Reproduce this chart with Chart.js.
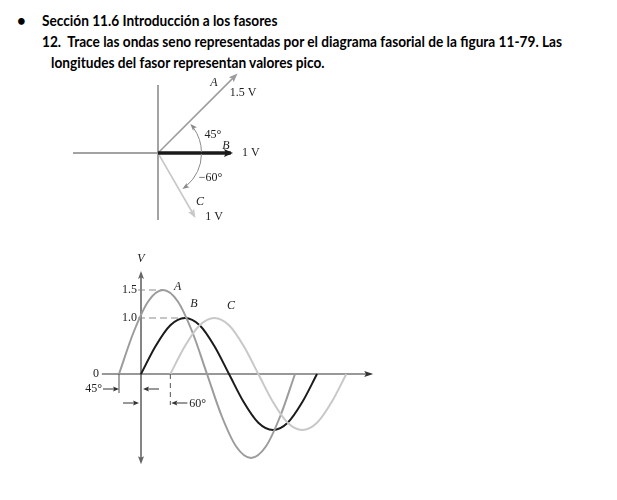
<!DOCTYPE html>
<html>
<head>
<meta charset="utf-8">
<script src="https://cdn.jsdelivr.net/npm/chart.js@4.4.0/dist/chart.umd.min.js"></script>
<style>
  html, body { margin: 0; padding: 0; background: #fff; }
  body { width: 617px; height: 500px; position: relative; overflow: hidden; }
  .hd { position: absolute; font-family: Lato, 'Open Sans', sans-serif; font-weight: bold; font-size: 15px;
        color: #000; white-space: nowrap; line-height: 1; transform-origin: left center; }
  canvas { position: absolute; }
</style>
</head>
<body>
<div class="hd" style="left:17px;top:13px">•</div>
<div class="hd line" style="left:42px;top:13px">Sección 11.6 Introducción a los fasores</div>
<div class="hd line" style="left:42px;top:34px">12.&nbsp;&nbsp;Trace las ondas seno representadas por el diagrama fasorial de la figura 11-79. Las</div>
<div class="hd line" style="left:51px;top:55px">longitudes del fasor representan valores pico.</div>

<canvas id="phasor" width="240" height="175" style="left:60px;top:60px"></canvas>
<canvas id="waves" width="330" height="230" style="left:60px;top:250px"></canvas>

<script>
// phasor diagram (fig. 11-79)
const phasorName = ['A', 'B', 'C'];
const phasorPeak = [1.5, 1, 1];      // V
const phasorAngle = [45, 0, -60];    // degrees
const phasorText = ['1.5 V', '1 V', '1 V'];
const arcText = ['45°', '\u221260°'];

// sine waves, one cycle each, every 30 deg
const degA = [-45, -15, 15, 45, 75, 105, 135, 165, 195, 225, 255, 285, 315];
const voltA = [0, 0.75, 1.3, 1.5, 1.3, 0.75, 0, -0.75, -1.3, -1.5, -1.3, -0.75, 0];
const degB = [0, 30, 60, 90, 120, 150, 180, 210, 240, 270, 300, 330, 360];
const voltB = [0, 0.5, 0.87, 1, 0.87, 0.5, 0, -0.5, -0.87, -1, -0.87, -0.5, 0];
const degC = [60, 90, 120, 150, 180, 210, 240, 270, 300, 330, 360, 390, 420];
const voltC = [0, 0.5, 0.87, 1, 0.87, 0.5, 0, -0.5, -0.87, -1, -0.87, -0.5, 0];
const yTickValues = [1.5, 1.0];
const yTickLabels = ['1.5', '1.0'];
const shiftLabels = ['45°', '60°'];

const COLORS = ['#9c9c9c', '#1b1b1b', '#c8c8c8'];
const SERIF = '"Liberation Serif", "DejaVu Serif", serif';

// squeeze the heading to the width it has in the scan (Calibri is narrow)
(() => {
  const lines = Array.from(document.querySelectorAll('.hd.line'));
  const k = 520 / lines[1].offsetWidth;
  lines.forEach((el) => { el.style.transform = `scaleX(${k})`; });
})();

function arrowHead(ctx, x, y, angle, len, half, color) {
  ctx.save();
  ctx.translate(x, y);
  ctx.rotate(angle);
  ctx.fillStyle = color;
  ctx.beginPath();
  ctx.moveTo(0, 0);
  ctx.lineTo(-len, -half);
  ctx.lineTo(-len * 0.8, 0);
  ctx.lineTo(-len, half);
  ctx.closePath();
  ctx.fill();
  ctx.restore();
}

function text(ctx, str, x, y, align = 'center', italic = false) {
  ctx.font = `${italic ? 'italic ' : ''}12px ${SERIF}`;
  ctx.fillStyle = '#222';
  ctx.textAlign = align;
  ctx.textBaseline = 'middle';
  ctx.fillText(str, x, y);
}

const baseOptions = (xMin, xMax, yMin, yMax) => ({
  responsive: false,
  animation: false,
  events: [],
  layout: { padding: 0 },
  plugins: { legend: { display: false }, tooltip: { enabled: false } },
  scales: {
    x: { type: 'linear', display: false, min: xMin, max: xMax },
    y: { type: 'linear', display: false, min: yMin, max: yMax },
  },
});

// ---------- phasor chart ----------
const PH_PX = 75; // px per volt
const phasorDecor = {
  id: 'phasorDecor',
  beforeDatasetsDraw(chart) {
    const { ctx, scales: { x, y } } = chart;
    const ox = x.getPixelForValue(0);
    const oy = y.getPixelForValue(0);
    ctx.save();
    ctx.strokeStyle = '#858585';
    ctx.lineWidth = 1.5;
    ctx.beginPath();
    ctx.moveTo(x.getPixelForValue(-1.133), oy);
    ctx.lineTo(ox, oy);
    ctx.moveTo(ox, y.getPixelForValue(0.907));
    ctx.lineTo(ox, y.getPixelForValue(-0.893));
    ctx.stroke();
    ctx.restore();
  },
  afterDatasetsDraw(chart) {
    const { ctx, scales: { x, y } } = chart;
    const ox = x.getPixelForValue(0);
    const oy = y.getPixelForValue(0);

    phasorPeak.forEach((mag, i) => {
      const rad = phasorAngle[i] * Math.PI / 180;
      const tx = x.getPixelForValue(mag * Math.cos(rad));
      const ty = y.getPixelForValue(mag * Math.sin(rad));
      arrowHead(ctx, tx, ty, -rad, 9, i === 1 ? 4 : 3.5, COLORS[i]);
    });

    // angle arcs
    const r = x.getPixelForValue(0.58) - ox;
    ctx.save();
    ctx.strokeStyle = '#8a8a8a';
    ctx.lineWidth = 1;
    const a1 = 42 * Math.PI / 180;
    ctx.beginPath();
    ctx.arc(ox, oy, r, -0.02, -a1 + 0.12, true);
    ctx.stroke();
    arrowHead(ctx, ox + r * Math.cos(a1), oy - r * Math.sin(a1), -a1 - Math.PI / 2, 7, 2.6, '#8a8a8a');
    const a2 = 56 * Math.PI / 180;
    ctx.beginPath();
    ctx.arc(ox, oy, r, 0.02, a2 - 0.12, false);
    ctx.stroke();
    arrowHead(ctx, ox + r * Math.cos(a2), oy + r * Math.sin(a2), a2 + Math.PI / 2, 7, 2.6, '#8a8a8a');
    ctx.restore();

    const px = (v) => x.getPixelForValue(v);
    const py = (v) => y.getPixelForValue(v);
    text(ctx, phasorName[0], px(0.747), py(0.94), 'center', true);
    text(ctx, phasorText[0], px(1.133), py(0.80));
    text(ctx, arcText[0], px(0.733), py(0.24));
    text(ctx, phasorName[1], px(0.907), py(0.093), 'center', true);
    text(ctx, phasorText[1], px(1.12), py(0.0), 'left');
    text(ctx, arcText[1], px(0.70), py(-0.333));
    text(ctx, phasorName[2], px(0.56), py(-0.653), 'center', true);
    text(ctx, phasorText[2], px(0.747), py(-0.853));
  },
};

new Chart(document.getElementById('phasor'), {
  type: 'scatter',
  data: {
    datasets: phasorPeak.map((mag, i) => {
      const rad = phasorAngle[i] * Math.PI / 180;
      return {
        label: phasorName[i],
        data: [{ x: 0, y: 0 }, { x: mag * Math.cos(rad) * 0.97, y: mag * Math.sin(rad) * 0.97 }],
        showLine: true,
        borderColor: COLORS[i],
        borderWidth: i === 1 ? 3.5 : 1.6,
        pointRadius: 0,
        order: i === 1 ? 0 : 1,
      };
    }),
  },
  options: baseOptions(-98 / PH_PX, 142 / PH_PX, -82 / PH_PX, 93 / PH_PX),
  plugins: [phasorDecor],
});

// ---------- wave chart ----------
const DEG_PX = 88 / 180;
const V_PX = 56;
const waveDecor = {
  id: 'waveDecor',
  beforeDatasetsDraw(chart) {
    const { ctx, scales: { x, y } } = chart;
    const x0 = x.getPixelForValue(0);
    const y0 = y.getPixelForValue(0);
    const px = (v) => x.getPixelForValue(v);
    const py = (v) => y.getPixelForValue(v);
    ctx.save();

    // dashed guides to the peaks
    ctx.strokeStyle = '#8c8c8c';
    ctx.lineWidth = 1.2;
    ctx.setLineDash([7, 4]);
    ctx.beginPath();
    ctx.moveTo(x0 - 3, py(yTickValues[0]));
    ctx.lineTo(px(degA[3]), py(yTickValues[0]));
    ctx.moveTo(x0 - 3, py(yTickValues[1]));
    ctx.lineTo(px(degB[3]), py(yTickValues[1]));
    ctx.stroke();

    // phase markers below the axis
    ctx.strokeStyle = '#555';
    ctx.lineWidth = 1;
    ctx.setLineDash([5, 4]);
    ctx.beginPath();
    ctx.moveTo(px(degC[0]), y0);
    ctx.lineTo(px(degC[0]), y0 + 31);
    ctx.stroke();
    ctx.setLineDash([]);
    ctx.strokeStyle = '#777';
    ctx.lineWidth = 1.3;
    ctx.beginPath();
    ctx.moveTo(px(degA[0]), y0);
    ctx.lineTo(px(degA[0]), y0 + 19);
    ctx.stroke();

    // axes
    ctx.strokeStyle = '#858585';
    ctx.lineWidth = 2;
    ctx.beginPath();
    ctx.moveTo(x0, py(1.80));
    ctx.lineTo(x0, py(-1.57));
    ctx.stroke();
    arrowHead(ctx, x0, py(1.84), -Math.PI / 2, 8, 3, '#666');
    arrowHead(ctx, x0, py(-1.61), Math.PI / 2, 8, 3, '#666');

    ctx.strokeStyle = '#333';
    ctx.lineWidth = 1.2;
    ctx.beginPath();
    ctx.moveTo(px(-80), y0);
    ctx.lineTo(px(470), y0);
    ctx.stroke();
    arrowHead(ctx, px(475), y0, 0, 9, 3, '#333');

    // small dimension arrows
    ctx.strokeStyle = '#333';
    ctx.lineWidth = 1;
    const dim = (tip, dir, row) => {
      const yy = y0 + row;
      ctx.beginPath();
      ctx.moveTo(tip - dir * 16, yy);
      ctx.lineTo(tip - dir * 4, yy);
      ctx.stroke();
      arrowHead(ctx, tip, yy, dir > 0 ? 0 : Math.PI, 6, 2.4, '#333');
    };
    dim(px(degA[0]), 1, 15);
    dim(x0 + 2, -1, 15);
    dim(x0 - 2, 1, 29);
    dim(px(degC[0]) + 1, -1, 29);

    text(ctx, shiftLabels[0], px(degA[0]) - 17, y0 + 15, 'right');
    text(ctx, shiftLabels[1], px(degC[0]) + 19, y0 + 30, 'left');

    text(ctx, '0', px(-80) - 3, y0, 'right');
    yTickValues.forEach((v, i) => text(ctx, yTickLabels[i], x0 - 4, py(v), 'right'));
    text(ctx, 'V', x0, py(1.84) - 12, 'center', true);
    ctx.restore();
  },
  afterDatasetsDraw(chart) {
    const { ctx, scales: { x, y } } = chart;
    const px = (v) => x.getPixelForValue(v);
    const py = (v) => y.getPixelForValue(v);
    text(ctx, 'A', px(75), py(1.55), 'center', true);
    text(ctx, 'B', px(108), py(1.26), 'center', true);
    text(ctx, 'C', px(184), py(1.22), 'center', true);
  },
};

const waveSet = (label, degs, volts, color) => ({
  label,
  data: degs.map((d, i) => ({ x: d, y: volts[i] })),
  showLine: true,
  cubicInterpolationMode: 'monotone',
  borderColor: color,
  borderWidth: 2,
  pointRadius: 0,
  clip: false,
});

new Chart(document.getElementById('waves'), {
  type: 'scatter',
  data: {
    datasets: [
      waveSet('C', degC, voltC, COLORS[2]),
      waveSet('A', degA, voltA, COLORS[0]),
      waveSet('B', degB, voltB, COLORS[1]),
    ],
  },
  options: baseOptions(-81 / DEG_PX, 249 / DEG_PX, -106 / V_PX, 124 / V_PX),
  plugins: [waveDecor],
});
</script>
</body>
</html>
